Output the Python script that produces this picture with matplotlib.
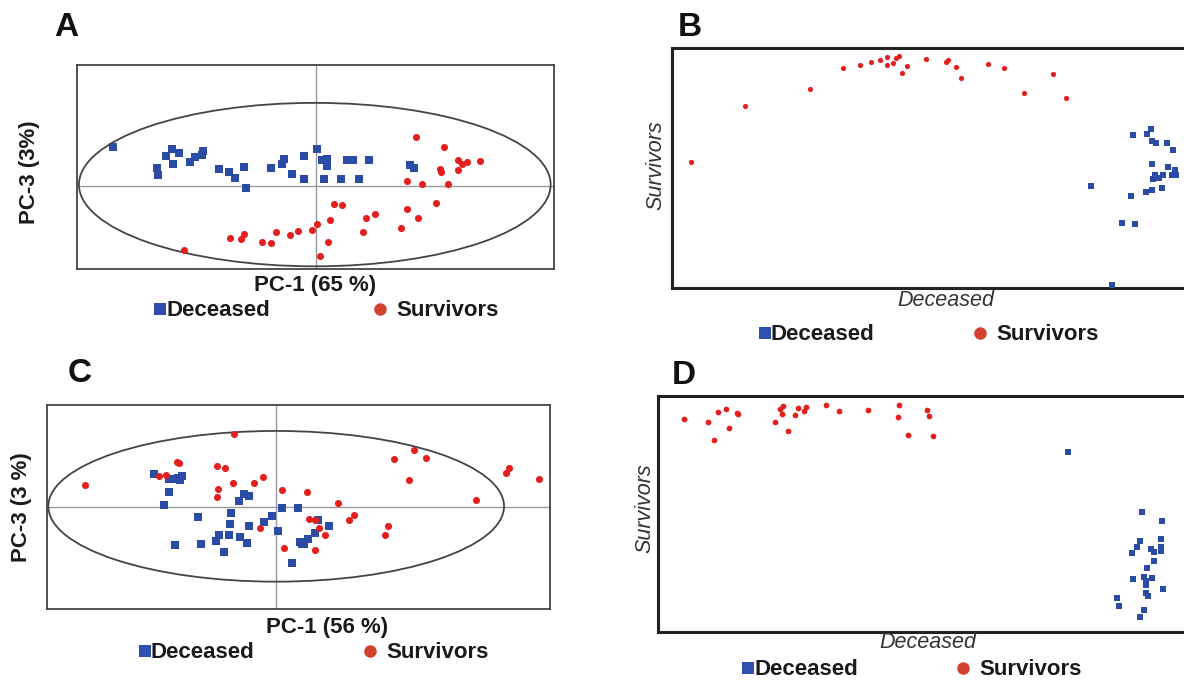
import matplotlib
matplotlib.use("Agg")
import matplotlib.pyplot as plt
from matplotlib.patches import Ellipse
from matplotlib.lines import Line2D

plt.rcParams['font.family'] = ['Liberation Sans', 'DejaVu Sans']

# ---------------- data (scores, arbitrary units) ----------------
# Panel A: PCA, PC-1 (65 %) vs PC-3 (3%)
a_dec_x = [-202.3, -143.3, -136.7, -149.7, -142.3, -125.0, -120.7, -112.3, -113.0, -158.3, -157.3,
           -96.3, -86.3, -80.7, -71.7, -69.3, -44.0, -31.0, -33.0, -23.7, -11.3, -11.3, 1.3, 6.3,
           11.3, 11.0, 8.3, 25.3, 31.7, 37.0, 43.0, 53.0, 94.3, 98.7]
a_dec_y = [38.3, 36.3, 33.0, 29.3, 22.0, 23.7, 28.3, 34.3, 30.3, 17.7, 10.7,
           16.7, 13.3, 7.7, 18.3, -2.3, 17.7, 26.3, 21.3, 11.3, 29.3, 6.7, 36.3, 25.7,
           27.0, 20.0, 6.7, 6.7, 25.3, 25.3, 6.7, 25.3, 20.3, 17.3]
a_sur_x = [100.3, 128.7, 142.0, 146.3, 151.3, 164.3, 124.7, 125.7, 142.0, 91.3, 106.0, 132.7,
           120.7, 91.3, 102.0, 85.3, 47.7, 50.7, 59.7, 18.0, 26.0, 14.0, 12.0, 4.3, 1.3, -3.3,
           -17.3, -25.7, -39.0, -44.3, -53.7, -71.7, -74.3, -85.3, -131.0]
a_sur_y = [48.7, 39.0, 25.7, 21.7, 23.7, 24.3, 16.7, 13.7, 15.3, 4.3, 1.3, 1.3,
           -17.3, -23.3, -33.0, -43.0, -47.0, -32.3, -29.0, -18.3, -19.3, -35.0, -56.7, -70.3, -38.3, -45.0,
           -46.0, -50.0, -47.0, -57.7, -56.7, -48.7, -54.0, -53.0, -64.7]

# Panel B: Deceased vs Survivors scores
b_dec_x = [461.7, 475.0, 479.7, 480.7, 484.0, 495.7, 501.3, 480.0, 496.7, 503.3, 483.3, 481.0,
           487.7, 491.0, 500.0, 504.3, 490.7, 480.7, 474.3, 459.0, 419.7, 450.3, 463.0, 440.0]
b_dec_y = [153.3, 153.7, 159.3, 146.7, 144.7, 145.0, 138.0, 124.0, 120.7, 118.3, 113.3, 109.0,
           110.0, 113.3, 113.3, 113.3, 100.0, 97.7, 96.3, 91.7, 101.7, 65.3, 64.0, 2.7]
b_sur_x = [19.3, 72.7, 137.7, 170.7, 188.0, 199.0, 207.7, 215.0, 215.0, 221.3, 224.3, 226.7,
           229.7, 234.7, 254.3, 273.7, 276.3, 284.0, 289.0, 316.0, 332.3, 352.3, 381.7, 394.3]
b_sur_y = [125.7, 182.0, 199.0, 220.3, 223.3, 226.0, 227.7, 231.0, 223.3, 225.3, 229.7, 232.3,
           215.0, 222.3, 228.7, 226.3, 228.0, 220.7, 210.3, 224.0, 220.3, 195.0, 214.3, 190.0]

# Panel C: PCA, PC-1 (56 %) vs PC-3 (3 %)
c_dec_x = [-122.7, -107.0, -102.7, -98.7, -94.7, -96.7, -107.7, -112.0, -78.0, -101.3, -75.3, -59.7,
           -57.0, -51.7, -47.0, -45.7, -45.0, -36.0, -29.3, -26.7, -37.0, -32.0, -27.3, -12.0,
           -3.7, 2.3, 5.7, 21.7, 23.7, 25.7, 28.3, 31.7, 39.3, 41.7, 53.3, 16.0]
c_dec_y = [33.0, 27.3, 28.0, 29.0, 30.7, 26.3, 15.0, 2.0, -10.7, -38.3, -38.0, -34.7,
           -28.7, -45.3, -28.7, -17.7, -7.0, -30.3, -36.3, -19.7, 5.3, 13.0, 11.0, -15.7,
           -9.7, -24.3, -1.7, -1.7, -35.7, -37.7, -38.0, -32.3, -26.3, -13.7, -19.7, -56.3]
c_sur_x = [-191.7, -117.0, -110.0, -99.3, -97.3, -58.7, -51.3, -43.3, -57.7, -58.7, -42.0, -22.0,
           -13.3, -15.7, 6.0, 8.3, 31.3, 33.3, 38.7, 43.3, 48.7, 38.7, 62.0, 72.7, 78.0, 109.0,
           112.0, 118.0, 132.7, 138.0, 149.7, 199.7, 229.7, 233.3, 263.3]
c_sur_y = [21.7, 30.7, 31.7, 44.3, 44.0, 40.7, 38.3, 24.0, 17.7, 9.7, 73.0, 23.7,
           29.3, -21.7, 16.3, -41.7, 15.0, -12.3, -13.7, -21.3, -28.7, -43.7, 3.3, -13.7, -8.7, -28.7,
           -19.7, 47.3, 27.0, 56.3, 48.3, 7.0, 33.7, 38.7, 27.7]

# Panel D: Deceased vs Survivors scores
d_dec_x = [410.7, 484.0, 504.0, 482.7, 479.7, 474.7, 493.3, 496.3, 503.3, 503.0, 503.7, 496.7,
           489.3, 475.7, 486.0, 494.0, 488.7, 488.0, 488.0, 490.0, 505.7, 459.7, 461.0, 486.3, 482.3]
d_dec_y = [179.3, 120.3, 110.7, 90.7, 84.7, 79.0, 83.0, 80.0, 92.7, 85.0, 81.0, 71.3,
           63.7, 53.0, 55.0, 53.7, 51.3, 47.3, 39.3, 35.7, 43.0, 34.0, 26.3, 22.3, 15.0]
d_sur_x = [25.7, 49.7, 55.7, 60.0, 67.7, 71.0, 79.0, 79.7, 117.3, 122.3, 125.0, 124.3, 129.7,
           137.0, 140.3, 145.7, 148.3, 167.7, 181.0, 210.3, 239.7, 241.0, 250.3, 269.3, 270.7, 275.3]
d_sur_y = [212.7, 209.7, 192.0, 219.7, 222.3, 204.0, 218.3, 217.3, 209.7, 222.7, 225.7, 217.7, 200.7,
           217.0, 223.7, 220.7, 224.3, 226.7, 220.7, 221.7, 215.0, 226.7, 196.7, 221.3, 215.7, 196.0]

panel_letters = ["A", "B", "C", "D"]
pca_xlabels = ["PC-1 (65 %)", "PC-1 (56 %)"]
pca_ylabels = ["PC-3 (3%)", "PC-3 (3 %)"]
group_labels = ["Deceased", "Survivors"]

BLUE = "#2A4CA5"
RED = "#E3201E"
LEG_BLUE = "#2F4FB0"
LEG_RED = "#D2402F"
TXT = "#1a1a1a"

W, H = 1184, 680
fig = plt.figure(figsize=(W / 100, H / 100), dpi=100)


def add_ax(left, top, right, bottom):
    return fig.add_axes([left / W, 1 - bottom / H, (right - left) / W, (bottom - top) / H])


def fx(x):
    return x / W


def fy(y):
    return 1 - y / H


def pca_panel(ax, dx, dy, sx, sy, xlim, ylim, ell):
    ax.set_xlim(*xlim)
    ax.set_ylim(*ylim)
    ax.axhline(0, color="#9a9a9a", lw=1.0, zorder=1)
    ax.axvline(0, color="#9a9a9a", lw=1.0, zorder=1)
    ax.add_patch(Ellipse(ell[0], ell[1], ell[2], fill=False, ec="#444444", lw=1.3, zorder=2))
    ax.scatter(dx, dy, marker="s", s=26, color=BLUE, linewidths=0, zorder=3)
    ax.scatter(sx, sy, marker="o", s=26, color=RED, linewidths=0, zorder=3)
    ax.set_xticks([])
    ax.set_yticks([])
    for sp in ax.spines.values():
        sp.set_color("#444444")
        sp.set_linewidth(1.3)


def score_panel(ax, dx, dy, sx, sy, xlim, ylim, ms_sq, ms_c):
    ax.set_xlim(*xlim)
    ax.set_ylim(*ylim)
    ax.scatter(dx, dy, marker="s", s=ms_sq, color=BLUE, linewidths=0, zorder=3, clip_on=False)
    ax.scatter(sx, sy, marker="o", s=ms_c, color=RED, linewidths=0, zorder=3, clip_on=False)
    ax.set_xticks([])
    ax.set_yticks([])
    for sp in ax.spines.values():
        sp.set_color("#222222")
        sp.set_linewidth(2.2)


def legend_row(xsq, xcirc, y):
    fig.add_artist(Line2D([fx(xsq)], [fy(y)], marker="s", markersize=8.6, color=LEG_BLUE,
                          markeredgewidth=0, linestyle="none", transform=fig.transFigure))
    fig.text(fx(xsq + 6), fy(y + 1.5), group_labels[0], fontsize=16, fontweight="bold", ha="left",
             va="center", color=TXT)
    fig.add_artist(Line2D([fx(xcirc)], [fy(y)], marker="o", markersize=9.0, color=LEG_RED,
                          markeredgewidth=0, linestyle="none", transform=fig.transFigure))
    fig.text(fx(xcirc + 16), fy(y + 1.5), group_labels[1], fontsize=16, fontweight="bold", ha="left",
             va="center", color=TXT)


# Panel A
axA = add_ax(77, 65, 554, 269)
pca_panel(axA, a_dec_x, a_dec_y, a_sur_x, a_sur_y, (-238.3, 238.3), (-83.7, 121.0),
          ((-0.7, 1.0), 471.3, 164.0))
fig.text(fx(315), fy(285), pca_xlabels[0], fontsize=16, fontweight="bold", ha="center", va="center",
         color=TXT)
fig.text(fx(29), fy(172), pca_ylabels[0], fontsize=16, fontweight="bold", ha="center", va="center",
         rotation=90, color=TXT)
legend_row(160, 380, 309)

# Panel B
axB = add_ax(672, 48, 1188, 288)
score_panel(axB, b_dec_x, b_dec_y, b_sur_x, b_sur_y, (0, 516.3), (0, 240.0), 14, 14)
fig.text(fx(946), fy(301), group_labels[0], fontsize=15.5, style="italic", ha="center", va="center",
         color="#333333")
fig.text(fx(656), fy(165), group_labels[1], fontsize=15.5, style="italic", ha="center", va="center",
         rotation=90, color="#333333")
legend_row(765, 980, 333)

# Panel C
axC = add_ax(47, 405, 550, 609)
pca_panel(axC, c_dec_x, c_dec_y, c_sur_x, c_sur_y, (-229.3, 274.0), (-102.7, 101.7),
          ((0.0, 0.2), 456.0, 151.0))
fig.text(fx(327), fy(628), pca_xlabels[1], fontsize=16, fontweight="bold", ha="center", va="center",
         color=TXT)
fig.text(fx(22), fy(507), pca_ylabels[1], fontsize=16, fontweight="bold", ha="center", va="center",
         rotation=90, color=TXT)
legend_row(145, 370, 651)

# Panel D
axD = add_ax(658, 396, 1190, 632)
score_panel(axD, d_dec_x, d_dec_y, d_sur_x, d_sur_y, (0, 532.3), (0, 235.7), 17, 17)
fig.text(fx(928), fy(643), group_labels[0], fontsize=15.5, style="italic", ha="center", va="center",
         color="#333333")
fig.text(fx(645), fy(508), group_labels[1], fontsize=15.5, style="italic", ha="center", va="center",
         rotation=90, color="#333333")
legend_row(748, 963, 668)

# Panel letters
for letter, (x, y) in zip(panel_letters, [(66, 28), (690, 27), (80, 373), (684, 375)]):
    fig.text(fx(x), fy(y), letter, fontsize=24, fontweight="bold", ha="center", va="center",
             color="#111111")

fig.savefig("out.png", dpi=100, facecolor="white")
